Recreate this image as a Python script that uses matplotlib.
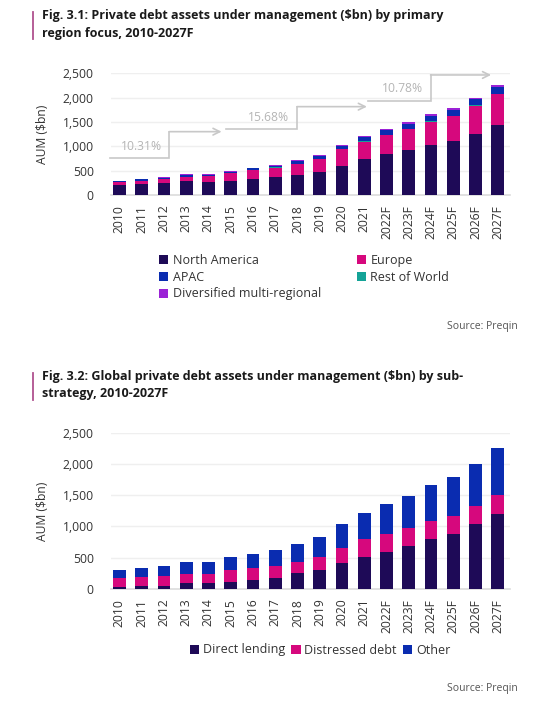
import matplotlib
matplotlib.use("Agg")
import matplotlib.pyplot as plt
from matplotlib.patches import Patch
import numpy as np

years = ["2010", "2011", "2012", "2013", "2014", "2015", "2016", "2017", "2018",
         "2019", "2020", "2021", "2022F", "2023F", "2024F", "2025F", "2026F", "2027F"]

# Fig 3.1 - by primary region focus ($bn)
north_america = [212, 226, 240, 281, 267, 295, 336, 370, 411, 466, 603, 733, 836, 918, 1021, 1103, 1254, 1432]
europe = [55, 69, 82, 96, 117, 150, 178, 192, 226, 267, 335, 363, 397, 431, 486, 520, 582, 637]
rest_of_world = [2, 2, 3, 3, 3, 3, 3, 3, 4, 4, 4, 5, 5, 6, 6, 6, 6, 8]
apac = [19, 23, 28, 33, 33, 33, 33, 33, 54, 59, 60, 85, 90, 106, 116, 116, 120, 144]
diversified = [7, 9, 10, 12, 12, 12, 12, 12, 17, 19, 19, 26, 28, 32, 36, 36, 38, 39]

# CAGR annotations
cagr_labels = ["10.31%", "15.68%", "10.78%"]

# Fig 3.2 - by sub-strategy ($bn)
direct_lending = [37, 48, 53, 91, 91, 117, 144, 181, 250, 309, 410, 517, 597, 682, 794, 879, 1034, 1205]
distressed_debt = [139, 139, 150, 144, 154, 181, 186, 187, 176, 197, 251, 288, 282, 288, 293, 294, 293, 303]
other = [128, 149, 170, 197, 192, 208, 235, 250, 294, 320, 373, 410, 485, 517, 571, 613, 677, 741]

C_NA = "#1e0a57"
C_EU = "#d6087d"
C_APAC = "#0a2cb0"
C_ROW = "#14a397"
C_DIV = "#9b22d6"
GRID = "#efefef"
BASE = "#dcdcdc"
TXT = "#333333"

plt.rcParams['font.family'] = ['Open Sans', 'DejaVu Sans']

fig = plt.figure(figsize=(5.52, 7.15), dpi=100)
W, H = 552, 715

def ax_rect(left, right, bottom_px, top_px):
    return [left / W, 1 - bottom_px / H, (right - left) / W, (bottom_px - top_px) / H]

x = np.arange(len(years))
bw = 0.57

def style_axes(ax):
    ax.set_ylim(0, 2500)
    ax.set_yticks([0, 500, 1000, 1500, 2000, 2500])
    ax.set_yticklabels(["0", "500", "1,000", "1,500", "2,000", "2,500"])
    ax.set_xlim(-0.4, 17.55)
    ax.set_xticks(x)
    ax.set_xticklabels(years, rotation=90)
    for s in ["top", "right", "left"]:
        ax.spines[s].set_visible(False)
    ax.spines["bottom"].set_color(BASE)
    ax.spines["bottom"].set_linewidth(1.2)
    ax.tick_params(axis="both", length=0, colors=TXT, labelsize=8.7)
    ax.tick_params(axis="y", pad=12)
    ax.tick_params(axis="x", pad=7)
    ax.yaxis.grid(True, color=GRID, linewidth=1.0)
    ax.set_axisbelow(True)
    ax.set_ylabel("AUM ($bn)", fontsize=8.7, color=TXT, labelpad=10)

# ---------- Top chart ----------
ax1 = fig.add_axes(ax_rect(110.5, 510, 195, 73.3))
bottom = np.zeros(len(years))
series1 = [(north_america, C_NA, "North America"), (europe, C_EU, "Europe"),
           (rest_of_world, C_ROW, "Rest of World"), (apac, C_APAC, "APAC"),
           (diversified, C_DIV, "Diversified multi-regional")]
for vals, col, lab in series1:
    ax1.bar(x, vals, bw, bottom=bottom, color=col, label=lab, zorder=3)
    bottom = bottom + np.array(vals)
style_axes(ax1)

arrow_col = "#c8c8c8"
steps = [
    ((-0.42, 753), (2.24, 1301), (4.59, 1301), (1.0, 993)),
    ((4.77, 1356), (7.98, 1815), (11.12, 1815), (6.68, 1596)),
    ((11.17, 1932), (13.98, 2466), (16.7, 2466), (12.74, 2178)),
]
for i, ((x0, y0), (x1, y1), (x2, y2), (tx, ty)) in enumerate(steps):
    ax1.plot([x0, x1, x1], [y0, y0, y1], color=arrow_col, lw=1.2, zorder=2,
             clip_on=False, solid_joinstyle="miter")
    ax1.annotate("", xy=(x2, y2), xytext=(x1, y2),
                 arrowprops=dict(arrowstyle="->", color=arrow_col, lw=1.2,
                                 shrinkA=0, shrinkB=0, mutation_scale=12),
                 zorder=2, annotation_clip=False)
    ax1.text(tx, ty, cagr_labels[i], ha="center", va="center", fontsize=8.7,
             color="#b5b5b5", zorder=2)

lab_map = {l: (c, l) for _, c, l in series1}
legend_order = ["North America", "APAC", "Diversified multi-regional", "Europe", "Rest of World"]
handles1 = [Patch(facecolor=lab_map[n][0], label=n) for n in legend_order]
fig.legend(handles=handles1, ncol=2, loc="upper left", bbox_to_anchor=(154 / W, 1 - 249 / H),
           frameon=False, fontsize=9, handlelength=0.75, handleheight=0.75,
           handletextpad=0.35, columnspacing=2.85, labelspacing=0.3,
           borderaxespad=0, labelcolor=TXT)

fig.text(518 / W, 1 - 327 / H, "Source: Preqin", ha="right", va="center",
         fontsize=7.5, color="#555555")

# ---------- Bottom chart ----------
ax2 = fig.add_axes(ax_rect(110.5, 510, 589, 432.7))
bottom = np.zeros(len(years))
series2 = [(direct_lending, C_NA, "Direct lending"), (distressed_debt, C_EU, "Distressed debt"),
           (other, C_APAC, "Other")]
for vals, col, lab in series2:
    ax2.bar(x, vals, bw, bottom=bottom, color=col, label=lab, zorder=3)
    bottom = bottom + np.array(vals)
style_axes(ax2)

handles2 = [Patch(facecolor=c, label=l) for _, c, l in series2]
fig.legend(handles=handles2, ncol=3, loc="center", bbox_to_anchor=(320 / W, 1 - 650 / H),
           frameon=False, fontsize=9, handlelength=0.75, handleheight=0.75,
           handletextpad=0.3, columnspacing=0.5, borderaxespad=0, labelcolor=TXT)

fig.text(518 / W, 1 - 688 / H, "Source: Preqin", ha="right", va="center",
         fontsize=7.5, color="#555555")

# ---------- Titles ----------
accent = "#b0528f"
for (l1, l2, y1, y2, ya, yb) in [
    ("Fig. 3.1: Private debt assets under management ($bn) by primary",
     "region focus, 2010-2027F", 15.7, 33.3, 11.7, 39.3),
    ("Fig. 3.2: Global private debt assets under management ($bn) by sub-",
     "strategy, 2010-2027F", 376.7, 393.5, 372.7, 400),
]:
    fig.text(42 / W, 1 - y1 / H, l1, ha="left", va="center", fontsize=9,
             fontweight="bold", color="#1a1a1a")
    fig.text(42 / W, 1 - y2 / H, l2, ha="left", va="center", fontsize=9,
             fontweight="bold", color="#1a1a1a")
    fig.add_artist(plt.Line2D([32.5 / W, 32.5 / W], [1 - ya / H, 1 - yb / H],
                              color=accent, lw=1.3))

fig.savefig("out.png", dpi=100, facecolor="white")
